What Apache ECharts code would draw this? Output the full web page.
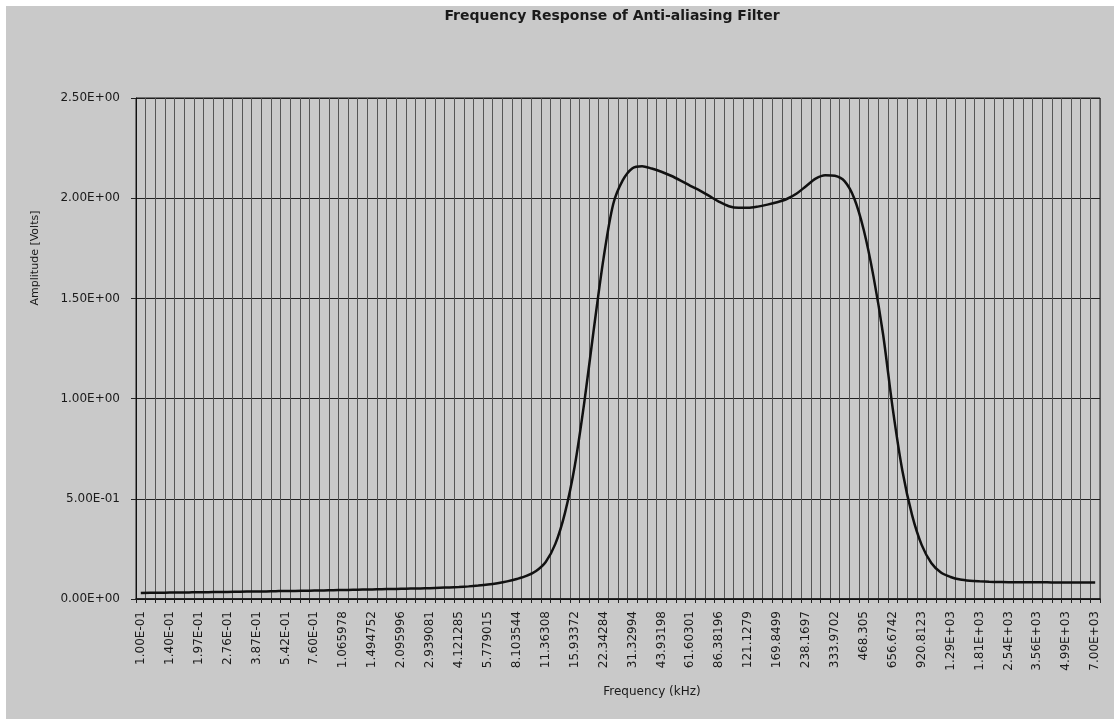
<!DOCTYPE html>
<html>
<head>
<meta charset="utf-8">
<title>Frequency Response of Anti-aliasing Filter</title>
<script src="https://cdn.jsdelivr.net/npm/echarts@6/dist/echarts.min.js"></script>
<style>
  html, body { margin: 0; padding: 0; background: #ffffff; }
  #chart { width: 1114px; height: 719px; }
</style>
</head>
<body>
<div id="chart"></div>
<script>
// Frequency sweep points (kHz), log-spaced, written as the spreadsheet shows them
const frequencies = [
  '1.00E-01', '1.12E-01', '1.25E-01', '1.40E-01', '1.57E-01', '1.76E-01',
  '1.97E-01', '2.20E-01', '2.46E-01', '2.76E-01', '3.09E-01', '3.45E-01',
  '3.87E-01', '4.33E-01', '4.84E-01', '5.42E-01', '6.07E-01', '6.79E-01',
  '7.60E-01', '8.51E-01', '9.52E-01', '1.065978', '1.193132', '1.335454',
  '1.494752', '1.673052', '1.872621', '2.095996', '2.346015', '2.625858',
  '2.939081', '3.289667', '3.682073', '4.121285', '4.612889', '5.163134',
  '5.779015', '6.46836', '7.239943', '8.103544', '9.070169', '10.1521',
  '11.36308', '12.71852', '14.23564', '15.93372', '17.83436', '19.96172',
  '22.34284', '25.00799', '27.99105', '31.32994', '35.06711', '39.25012',
  '43.93198', '49.17237', '55.03786', '61.60301', '68.95128', '77.17608',
  '86.38196', '96.68597', '108.2193', '121.1279', '135.5766', '151.7487',
  '169.8499', '190.1103', '212.7875', '238.1697', '266.5796', '298.3781',
  '333.9702', '373.8076', '418.3971', '468.305', '524.1664', '586.6912',
  '656.6742', '735.0051', '822.6796', '920.8123', '1.03E+03', '1.15E+03',
  '1.29E+03', '1.45E+03', '1.62E+03', '1.81E+03', '2.03E+03', '2.27E+03',
  '2.54E+03', '2.84E+03', '3.18E+03', '3.56E+03', '3.98E+03', '4.46E+03',
  '4.99E+03', '5.59E+03', '6.25E+03', '7.00E+03'
];

// Output amplitude (Volts) at each frequency
const amplitude = [
  0.030, 0.031, 0.031, 0.032, 0.032, 0.033, 0.034, 0.034, 0.035, 0.035,
  0.036, 0.037, 0.037, 0.038, 0.039, 0.040, 0.040, 0.041, 0.042, 0.043,
  0.044, 0.045, 0.046, 0.047, 0.048, 0.049, 0.050, 0.051, 0.052, 0.053,
  0.054, 0.056, 0.058, 0.060, 0.063, 0.067, 0.072, 0.079, 0.088, 0.100,
  0.115, 0.140, 0.185, 0.275, 0.430, 0.660, 0.980, 1.350, 1.700, 1.970,
  2.090, 2.150, 2.160, 2.148, 2.132, 2.112, 2.088, 2.062, 2.038, 2.010,
  1.982, 1.960, 1.952, 1.952, 1.958, 1.968, 1.980, 1.996, 2.022, 2.060,
  2.098, 2.115, 2.112, 2.085, 2.000, 1.840, 1.610, 1.320, 0.950, 0.640,
  0.420, 0.270, 0.180, 0.132, 0.110, 0.097, 0.091, 0.088, 0.086, 0.085,
  0.084, 0.084, 0.083, 0.083, 0.083, 0.082, 0.082, 0.082, 0.082, 0.082
];

// Amplitude axis tick labels, one per 0.5 V step
const amplitudeTicks = ['0.00E+00', '5.00E-01', '1.00E+00', '1.50E+00', '2.00E+00', '2.50E+00'];

const chartTitle = 'Frequency Response of Anti-aliasing Filter';
const xAxisTitle = 'Frequency (kHz)';
const yAxisTitle = 'Amplitude [Volts]';

const FONT = '"DejaVu Sans", "Liberation Sans", sans-serif';
const INK = '#1a1a1a';

const chart = echarts.init(document.getElementById('chart'), null, { renderer: 'canvas' });

chart.setOption({
  animation: false,
  backgroundColor: '#c9c9c9',
  textStyle: { fontFamily: FONT },
  graphic: [
    // thin white strips along the top and left edges
    { type: 'rect', left: 0, top: 0, shape: { width: 1114, height: 6 }, style: { fill: '#ffffff' }, silent: true },
    { type: 'rect', left: 0, top: 0, shape: { width: 6, height: 719 }, style: { fill: '#ffffff' }, silent: true },
    {
      type: 'text', x: 612, y: 16,
      style: { text: chartTitle, font: 'bold 14px ' + FONT, fill: INK, align: 'center', verticalAlign: 'middle' }
    },
    {
      type: 'text', x: 652, y: 692,
      style: { text: xAxisTitle, font: '12px ' + FONT, fill: INK, align: 'center', verticalAlign: 'middle' }
    },
    {
      type: 'text', x: 35, y: 258, rotation: Math.PI / 2,
      style: { text: yAxisTitle, font: '11px ' + FONT, fill: INK, align: 'center', verticalAlign: 'middle' }
    }
  ],
  grid: {
    left: 136, right: 14, top: 98, bottom: 120,
    show: true, borderColor: '#1a1a1a', borderWidth: 1, backgroundColor: 'transparent'
  },
  xAxis: {
    type: 'category',
    data: frequencies,
    boundaryGap: true,
    axisLine: { lineStyle: { color: '#111111', width: 1.5 } },
    axisTick: { show: true, interval: 0, length: 4, lineStyle: { color: '#222222' } },
    axisLabel: { interval: 2, rotate: 90, fontSize: 12, color: INK, margin: 12, fontFamily: FONT },
    splitLine: { show: true, interval: 0, lineStyle: { color: '#555555', width: 1 } }
  },
  yAxis: {
    type: 'value',
    min: 0, max: 2.5, interval: 0.5,
    axisLine: { show: true, lineStyle: { color: '#111111', width: 1 } },
    axisTick: { show: true, length: 5, lineStyle: { color: '#222222' } },
    axisLabel: {
      fontSize: 12, color: INK, margin: 16, fontFamily: FONT,
      formatter: (v) => amplitudeTicks[Math.round(v / 0.5)]
    },
    splitLine: { show: true, lineStyle: { color: '#1f1f1f', width: 1 } }
  },
  series: [{
    type: 'line',
    data: amplitude,
    showSymbol: false,
    smooth: 0.3,
    lineStyle: { color: '#111111', width: 2.5 }
  }]
});
</script>
</body>
</html>
